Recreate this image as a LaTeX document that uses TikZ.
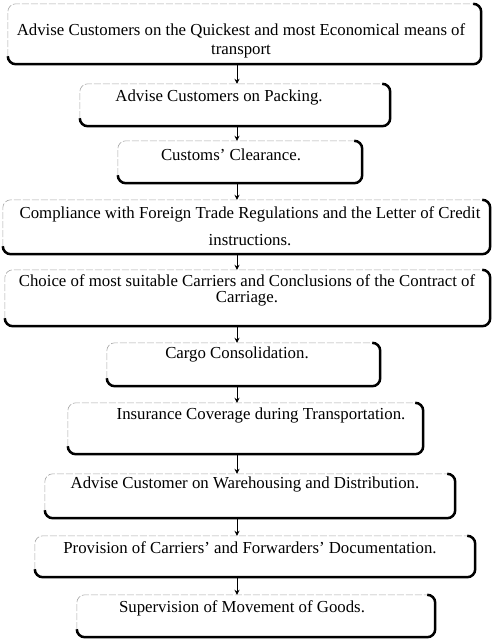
\documentclass[tikz,border=0pt]{standalone}
\usepackage{fontspec}
\setmainfont{Liberation Serif}
\usetikzlibrary{arrows.meta}

\begin{document}
\begin{tikzpicture}[x=1pt,y=-1pt,
  card/.style={rectangle, inner sep=0pt, minimum width=#1},
  cardtext/.style={inner sep=0pt, align=center, font=\fontsize{16.8}{18.5}\selectfont},
  faint/.style={draw=gray!70, line width=0.6pt, dash pattern=on 7pt off 2pt, rounded corners=8pt},
  heavy/.style={draw=black, line width=2.5pt, rounded corners=8pt},
  flow/.style={draw=black, line width=0.8pt, -{Stealth[length=5pt,width=5pt]}}
]
\useasboundingbox (0,0) rectangle (492,640);

% boxes: centre, width, height
\node[card=473, minimum height=60] (b1)  at (244.5,34)  {};
\node[card=310, minimum height=42] (b2)  at (235,105)   {};
\node[card=244, minimum height=42] (b3)  at (240,162)   {};
\node[card=487, minimum height=54] (b4)  at (246.5,227) {};
\node[card=485, minimum height=56] (b5)  at (247.5,298) {};
\node[card=273, minimum height=43] (b6)  at (243.5,364.5) {};
\node[card=355, minimum height=51] (b7)  at (245.5,428.5) {};
\node[card=410, minimum height=44] (b8)  at (250,496)   {};
\node[card=440, minimum height=41] (b9)  at (255,556.5) {};
\node[card=358, minimum height=42] (b10) at (256,616)   {};

% outlines: faint top/left, heavy right/bottom
\foreach \n in {b1,b2,b3,b4,b5,b6,b7,b8,b9,b10}{
  \draw[faint] ([yshift=8pt]\n.south west) -- (\n.north west) -- ([xshift=-8pt]\n.north east);
  \draw[heavy] ([xshift=-8pt]\n.north east) -- (\n.north east) -- (\n.south east) -- (\n.south west) -- ([yshift=8pt]\n.south west);
}

% texts
\node[cardtext] (t1) at (241,41) {Advise Customers on the Quickest and most Economical means of\\transport};
\node[cardtext] (t2) at (219,97) {Advise Customers on Packing.};
\node[cardtext] (t3) at (231,155) {Customs’ Clearance.};
\node[cardtext] (t4) at (250,226) {Compliance with Foreign Trade Regulations and the Letter of Credit\\[9pt]instructions.};
\node[cardtext, font=\fontsize{16.8}{16.5}\selectfont] (t5) at (247,290.5) {Choice of most suitable Carriers and Conclusions of the Contract of\\Carriage.};
\node[cardtext] (t6) at (237,354) {Cargo Consolidation.};
\node[cardtext] (t7) at (261,415) {Insurance Coverage during Transportation.};
\node[cardtext] (t8) at (245,484) {Advise Customer on Warehousing and Distribution.};
\node[cardtext] (t9) at (250,548) {Provision of Carriers’ and Forwarders’ Documentation.};
\node[cardtext] (t10) at (242,608) {Supervision of Movement of Goods.};

% connectors
\foreach \a/\b in {b1/b2,b2/b3,b3/b4,b4/b5,b5/b6,b6/b7,b7/b8,b8/b9,b9/b10}{
  \draw[flow] (\a.south -| 237,0) -- (\b.north -| 237,0);
}
\end{tikzpicture}
\end{document}
